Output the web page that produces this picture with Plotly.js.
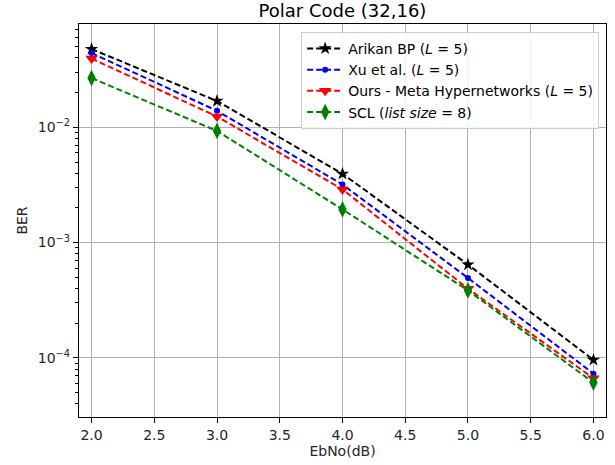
<!DOCTYPE html>
<html>
<head>
<meta charset="utf-8">
<script src="https://cdn.plot.ly/plotly-3.0.1.min.js"></script>
<style>html,body{margin:0;padding:0;background:#fff;}#chart{width:615px;height:465px;}</style>
</head>
<body>
<div id="chart"></div>
<script>
const ebno = [2.0, 3.0, 4.0, 5.0, 6.0];
const arikanBP = [0.0477, 0.0169, 0.00395, 0.000644, 0.000096];
const xuEtAl = [0.0440, 0.0139, 0.00319, 0.000493, 0.000073];
const oursMeta = [0.0395, 0.0124, 0.00289, 0.000398, 0.0000665];
const scl = [0.0267, 0.0093, 0.00194, 0.000385, 0.000061];
const seriesNames = [
  "Arikan BP (<i>L</i> = 5)",
  "Xu et al. (<i>L</i> = 5)",
  "Ours - Meta Hypernetworks (<i>L</i> = 5)",
  "SCL (<i>list size</i> = 8)"
];
const xTicks = [2.0, 2.5, 3.0, 3.5, 4.0, 4.5, 5.0, 5.5, 6.0];
const yTicks = [1e-4, 1e-3, 1e-2];
const yTickText = ["10<sup>\u22124</sup>", "10<sup>\u22123</sup>", "10<sup>\u22122</sup>"];

const minorVals = [];
for (let e = -5; e <= -1; e++) {
  for (let m = 2; m <= 9; m++) minorVals.push(m * Math.pow(10, e));
}

const styles = [
  {color: "black", symbol: "star", size: 10},
  {color: "blue", symbol: "circle", size: 6},
  {color: "red", symbol: "triangle-down", size: 11},
  {color: "green", symbol: "diamond-tall", size: 12}
];
const ys = [arikanBP, xuEtAl, oursMeta, scl];

const traces = ys.map((y, i) => ({
  x: ebno, y: y, name: seriesNames[i], type: "scatter", mode: "lines+markers",
  line: {color: styles[i].color, width: 2, dash: "6px,3px"},
  marker: {color: styles[i].color, symbol: styles[i].symbol, size: styles[i].size, line: {width: 0}}
}));

const layout = {
  width: 615, height: 465,
  margin: {l: 79, r: 9, t: 24, b: 48},
  paper_bgcolor: "white", plot_bgcolor: "white",
  font: {family: "DejaVu Sans", size: 14, color: "#262626"},
  title: {text: "Polar Code (32,16)", font: {size: 18, color: "black"}, x: 0.5, xref: "paper", xanchor: "center", y: 0.99, yanchor: "top"},
  xaxis: {
    range: [1.9, 6.1], tickvals: xTicks, ticktext: xTicks.map(v => v.toFixed(1)),
    showgrid: true, gridcolor: "#b0b0b0", gridwidth: 1,
    showline: true, linecolor: "black", linewidth: 1.2, mirror: true,
    ticks: "outside", ticklen: 5, tickcolor: "black", zeroline: false,
    title: {text: "EbNo(dB)", font: {size: 14}, standoff: 4}
  },
  yaxis: {
    type: "log", range: [Math.log10(3.07e-5), Math.log10(0.0787)],
    tickvals: yTicks, ticktext: yTickText,
    showgrid: true, gridcolor: "#b0b0b0", gridwidth: 1,
    showline: true, linecolor: "black", linewidth: 1.2, mirror: true,
    ticks: "outside", ticklen: 5, tickcolor: "black", zeroline: false,
    minor: {tickmode: "array", tickvals: minorVals, ticks: "outside", ticklen: 3, tickcolor: "black", showgrid: false},
    title: {text: "BER", font: {size: 14}, standoff: 6}
  },
  legend: {
    x: 0.987, y: 0.98, xanchor: "right", yanchor: "top",
    bgcolor: "rgba(255,255,255,0.85)", bordercolor: "#cccccc", borderwidth: 1,
    font: {size: 14, color: "black"}, tracegroupgap: 0, itemwidth: 36
  },
  showlegend: true
};

Plotly.newPlot("chart", traces, layout, {displayModeBar: false, staticPlot: true});
</script>
</body>
</html>
